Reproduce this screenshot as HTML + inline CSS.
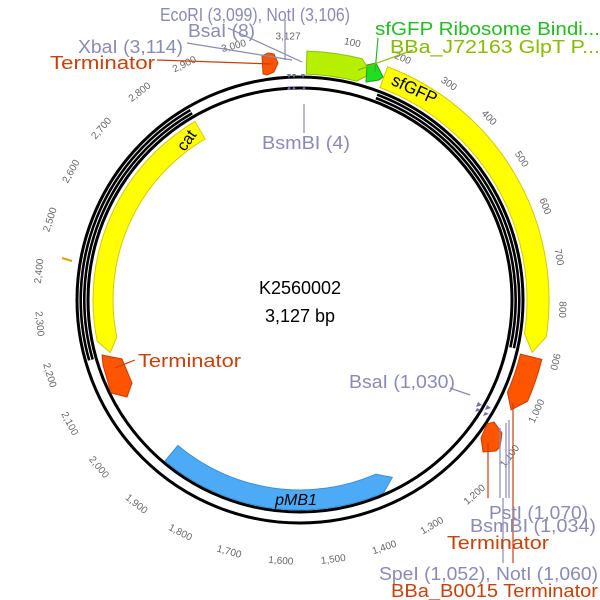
<!DOCTYPE html>
<html><head><meta charset="utf-8"><style>
html,body{margin:0;padding:0;background:#fff;}
svg{display:block;font-family:"Liberation Sans",sans-serif;}
.t{font-size:10px;fill:#666;text-anchor:middle;dominant-baseline:central;}
.lb{font-size:18px;fill:#8a8ab6;}
.or{font-size:18px;fill:#c8400c;}
</style></head><body>
<svg width="600" height="600" viewBox="0 0 600 600" xmlns="http://www.w3.org/2000/svg">
<circle cx="300" cy="300" r="223" fill="none" stroke="#000" stroke-width="3"/>
<circle cx="300" cy="300" r="212" fill="none" stroke="#000" stroke-width="3"/>
<path d="M190.35,110.1 A219.3 219.3 0 0 0 89.2,360.4" fill="none" stroke="#000" stroke-width="2.6"/>
<path d="M192.15,113.2 A215.7 215.7 0 0 0 92.65,359.5" fill="none" stroke="#000" stroke-width="2.6"/>
<path d="M377.1,94.7 A219.3 219.3 0 0 1 513.9,348.2" fill="none" stroke="#000" stroke-width="2.6"/>
<path d="M375.9,98.1 A215.7 215.7 0 0 1 510.4,347.4" fill="none" stroke="#000" stroke-width="2.6"/>

<path d="M387.6,66.9 A249,249 0 0 1 546.3,336.8 L532.2,352.3 L524.5,333.6 A227,227 0 0 0 379.9,87.5 Z" fill="#ffff00" stroke="#d8c800" stroke-width="1"/>
<path d="M541.8,359.4 A249 249 0 0 1 527.5,401.3 L511.1,409.9 L507.4,392.3 A227 227 0 0 0 520.4,354.1 Z" fill="#ff5500" stroke="#c84000" stroke-width="1"/>
<path d="M487,424 L494,422 L502,433 L500,447 L496,451 L483,452 L481,438 Z" fill="#ff5500" stroke="#c84000" stroke-width="1"/>
<path d="M306.95,51.1 A249 249 0 0 1 362.3,58.9 L371.4,73.5 L356.6,81.2 A226 226 0 0 0 306.3,74.1 Z" fill="#b6f000" stroke="#8cc000" stroke-width="1"/>
<path d="M367,65 L376,63 L383,77 L379,80 L366,82 Z" fill="#22dd22" stroke="#18a018" stroke-width="1"/>
<path d="M262,56 L268,53 L274,54 L278,63 L274,72 L267,75 L263,74 Z" fill="#ff5500" stroke="#c84000" stroke-width="1"/>
<path d="M102,355 L122,359 L132,383 L127,397 L111,393 L103,365 Z" fill="#ff5500" stroke="#c84000" stroke-width="1"/>
<path d="M194.9,121.6 A207 207 0 0 0 97.2,341.3 L110.2,352.6 L116.8,337.3 A187 187 0 0 1 205.1,138.9 Z" fill="#ffff00" stroke="#d8c800" stroke-width="1"/>
<path d="M165,460.9 A210 210 0 0 0 383.7,492.6 L392.3,477.4 L375.8,474.2 A190 190 0 0 1 177.9,445.5 Z" fill="#4daaf7" stroke="#3a90d8" stroke-width="1"/>
<line x1="62" y1="258" x2="72" y2="261" stroke="#e0a000" stroke-width="2"/>

<g fill="#7070a8">
<polygon points="287,74 291,74 289,78"/><polygon points="292,74 296,74 294,78"/><polygon points="301,74 305,74 303,78"/>
<polygon points="287,90 291,90 289,86"/><polygon points="292,90 296,90 294,86"/><polygon points="302,90 306,90 304,86"/>
<polygon points="478,402 482,405 476,407"/><polygon points="477,408 481,410 475,412"/>
<polygon points="487,405 491,408 485,410"/><polygon points="485,412 489,414 483,416"/>
</g>

<g class="t">
<text transform="translate(288,37)">3,127</text>
<text transform="translate(352.3,43.3) rotate(11.5)">100</text>
<text transform="translate(402.5,58.9) rotate(23)">200</text>
<text transform="translate(448.6,84.2) rotate(34.5)">300</text>
<text transform="translate(488.6,118.2) rotate(46)">400</text>
<text transform="translate(521.1,159.4) rotate(57.6)">500</text>
<text transform="translate(544.7,206.4) rotate(69)">600</text>
<text transform="translate(558.5,257.2) rotate(80.6)">700</text>
<text transform="translate(561.8,309.6) rotate(92)">800</text>
<text transform="translate(554.6,361.6) rotate(103.6)">900</text>
<text transform="translate(537.2,411.4) rotate(-64.9)">1,000</text>
<text transform="translate(510.2,456.4) rotate(-53.4)">1,100</text>
<text transform="translate(474.9,495.1) rotate(-41.8)">1,200</text>
<text transform="translate(432.3,526.1) rotate(-30.3)">1,300</text>
<text transform="translate(384.5,548) rotate(-18.8)">1,400</text>
<text transform="translate(333.3,559.9) rotate(-7.3)">1,500</text>
<text transform="translate(280.8,561.3) rotate(4.2)">1,600</text>
<text transform="translate(229,552.2) rotate(15.7)">1,700</text>
<text transform="translate(180.1,533) rotate(27.2)">1,800</text>
<text transform="translate(136.1,504.4) rotate(38.7)">1,900</text>
<text transform="translate(98.5,467.5) rotate(50.3)">2,000</text>
<text transform="translate(69.2,423.9) rotate(61.8)">2,100</text>
<text transform="translate(49.1,375.4) rotate(73.3)">2,200</text>
<text transform="translate(39.1,323.8) rotate(84.8)">2,300</text>
<text transform="translate(39.6,271.2) rotate(-83.7)">2,400</text>
<text transform="translate(50.6,219.8) rotate(-72.2)">2,500</text>
<text transform="translate(71.6,171.6) rotate(-60.7)">2,600</text>
<text transform="translate(101.8,128.7) rotate(-49.2)">2,700</text>
<text transform="translate(140,92.5) rotate(-37.6)">2,800</text>
<text transform="translate(184.6,64.8) rotate(-26.1)">2,900</text>
<text transform="translate(233.9,46.5) rotate(-14.6)">3,000</text>
</g>

<g stroke-width="1.2" fill="none">
<line x1="285" y1="20" x2="285" y2="60" stroke="#8a8ab6"/>
<line x1="228" y1="28" x2="302" y2="62" stroke="#8a8ab6"/>
<line x1="187" y1="43" x2="292" y2="60" stroke="#8a8ab6"/>
<line x1="157" y1="60" x2="273" y2="64" stroke="#c8400c"/>
<line x1="304" y1="104" x2="304" y2="133" stroke="#8a8ab6"/>
<line x1="378" y1="38" x2="375" y2="72" stroke="#22bb22"/>
<line x1="413" y1="50" x2="358" y2="70" stroke="#88bb00"/>
<line x1="135" y1="360" x2="115" y2="368" stroke="#c8400c"/>
<line x1="450" y1="388" x2="470" y2="395" stroke="#8a8ab6"/>
<line x1="488" y1="443" x2="488" y2="498" stroke="#c8400c"/>
<line x1="500" y1="428" x2="500" y2="498" stroke="#8a8ab6"/>
<line x1="506" y1="423" x2="506" y2="498" stroke="#8a8ab6"/>
<line x1="503" y1="498" x2="503" y2="563" stroke="#8a8ab6"/>
<line x1="509" y1="420" x2="509" y2="498" stroke="#8a8ab6"/>
<line x1="513" y1="403" x2="513" y2="563" stroke="#c8400c"/>
</g>

<text x="415" y="95" font-size="17" transform="rotate(25 415 88)" text-anchor="middle" fill="#000">sfGFP</text>
<text x="186" y="146" font-size="16" transform="rotate(-55 186 140)" text-anchor="middle" fill="#000">cat</text>
<text x="296" y="505" font-size="16" font-style="italic" text-anchor="middle" fill="#000">pMB1</text>
<text x="300" y="294" font-size="18" text-anchor="middle" fill="#000">K2560002</text>
<text x="300" y="322" font-size="18" text-anchor="middle" fill="#000">3,127 bp</text>

<g lengthAdjust="spacingAndGlyphs">
<text class="lb" x="160" y="21" textLength="190" lengthAdjust="spacingAndGlyphs">EcoRI (3,099), NotI (3,106)</text>
<text class="lb" x="188" y="37" textLength="67" lengthAdjust="spacingAndGlyphs">BsaI (8)</text>
<text class="lb" x="78" y="53" textLength="105" lengthAdjust="spacingAndGlyphs">XbaI (3,114)</text>
<text class="or" x="50" y="69" textLength="105" lengthAdjust="spacingAndGlyphs">Terminator</text>
<text x="375" y="35" font-size="18" fill="#22bb22" textLength="225" lengthAdjust="spacingAndGlyphs">sfGFP Ribosome Bindi...</text>
<text x="390" y="53" font-size="18" fill="#88bb00" textLength="210" lengthAdjust="spacingAndGlyphs">BBa_J72163 GlpT P...</text>
<text class="lb" x="262" y="149" textLength="88" lengthAdjust="spacingAndGlyphs">BsmBI (4)</text>
<text class="or" x="138" y="367" textLength="103" lengthAdjust="spacingAndGlyphs">Terminator</text>
<text class="lb" x="349" y="388" textLength="106" lengthAdjust="spacingAndGlyphs">BsaI (1,030)</text>
<text class="lb" x="489" y="519" textLength="99" lengthAdjust="spacingAndGlyphs">PstI (1,070)</text>
<text class="lb" x="470" y="532" textLength="126" lengthAdjust="spacingAndGlyphs">BsmBI (1,034)</text>
<text class="or" x="447" y="549" textLength="102" lengthAdjust="spacingAndGlyphs">Terminator</text>
<text class="lb" x="379" y="580" textLength="219" lengthAdjust="spacingAndGlyphs">SpeI (1,052), NotI (1,060)</text>
<text class="or" x="391" y="597" textLength="207" lengthAdjust="spacingAndGlyphs">BBa_B0015 Terminator</text>
</g>
</svg>
</body></html>
